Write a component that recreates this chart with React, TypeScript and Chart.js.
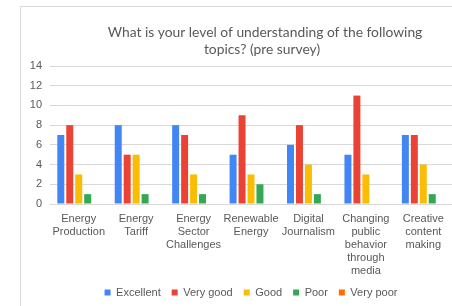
import React, { useEffect, useRef } from "react";
import { Chart, registerables } from "chart.js";
Chart.register(...registerables);

const categories: string[][] = [
  ["Energy", "Production"],
  ["Energy", "Tariff"],
  ["Energy", "Sector", "Challenges"],
  ["Renewable", "Energy"],
  ["Digital", "Journalism"],
  ["Changing", "public", "behavior", "through", "media"],
  ["Creative", "content", "making"],
];
const excellent = [7, 8, 8, 5, 6, 5, 7];
const veryGood = [8, 5, 7, 9, 8, 11, 7];
const good = [3, 5, 3, 3, 4, 3, 4];
const poor = [1, 1, 1, 2, 1, 0, 1];
const veryPoor = [0, 0, 0, 0, 0, 0, 0];
const seriesNames = ["Excellent", "Very good", "Good", "Poor", "Very poor"];
const seriesColors = ["#4285F4", "#EA4335", "#FBBC04", "#34A853", "#FF6D01"];
const titleLines = ["What is your level of understanding of the following", "topics? (pre survey)"];
const yMax = 14;
const yStep = 2;

const framePlugin = {
  id: "frame",
  beforeDraw(chart: any) {
    const ctx = chart.ctx;
    ctx.save();
    ctx.strokeStyle = "#d9d9d9";
    ctx.lineWidth = 1;
    ctx.beginPath();
    ctx.moveTo(20.5, chart.height);
    ctx.lineTo(20.5, 6.5);
    ctx.lineTo(chart.width, 6.5);
    ctx.stroke();
    ctx.restore();
  },
};

const titlePlugin = {
  id: "manualTitle",
  afterDraw(chart: any) {
    const ctx = chart.ctx;
    ctx.save();
    let size = 14;
    ctx.font = `${size}px Lato`;
    const w = ctx.measureText(titleLines[0]).width;
    size = size * (315 / w);
    ctx.font = `${size}px Lato`;
    ctx.fillStyle = "#595959";
    ctx.textAlign = "center";
    ctx.textBaseline = "middle";
    ctx.fillText(titleLines[0], 265, 33);
    ctx.fillText(titleLines[1], 262, 50);
    ctx.restore();
  },
};

export default function App() {
  const ref = useRef<HTMLCanvasElement>(null);
  useEffect(() => {
    if (!ref.current) return;
    const data = [excellent, veryGood, good, poor, veryPoor];
    const chart = new Chart(ref.current, {
      type: "bar",
      data: {
        labels: categories,
        datasets: data.map((d, i) => ({
          label: seriesNames[i],
          data: d,
          backgroundColor: seriesColors[i],
          borderWidth: 0,
          categoryPercentage: 0.78,
          barPercentage: 0.78,
        })),
      },
      options: {
        responsive: false,
        animation: false,
        layout: { padding: { left: 20, top: 66, right: 0, bottom: -2 } },
        plugins: {
          title: { display: false },
          tooltip: { enabled: false },
          legend: {
            position: "bottom",
            fullSize: false,
            labels: {
              boxWidth: 6,
              boxHeight: 6,
              padding: 11,
              color: "#595959",
              font: { family: "Liberation Sans", size: 11 },
            },
          },
        },
        scales: {
          x: {
            grid: { display: false },
            border: { display: false },
            ticks: {
              color: "#595959",
              font: { family: "Liberation Sans", size: 11 },
              padding: 0,
              maxRotation: 0,
              autoSkip: false,
            },
            afterFit: (s: any) => {
              s.height = 72;
            },
          },
          y: {
            min: 0,
            max: yMax,
            grid: { color: "#d9d9d9", drawTicks: false },
            border: { display: false },
            ticks: {
              stepSize: yStep,
              color: "#595959",
              font: { family: "Liberation Sans", size: 11 },
              padding: 8,
            },
            afterFit: (s: any) => {
              s.width = 30;
            },
          },
        },
      },
      plugins: [framePlugin, titlePlugin],
    });
    return () => chart.destroy();
  }, []);
  return (
    <div style={{ position: "fixed", left: 0, top: 0, width: 452, height: 306, overflow: "hidden", background: "#fff" }}>
      <canvas ref={ref} width={452} height={306} style={{ width: 452, height: 306, display: "block" }} />
    </div>
  );
}
